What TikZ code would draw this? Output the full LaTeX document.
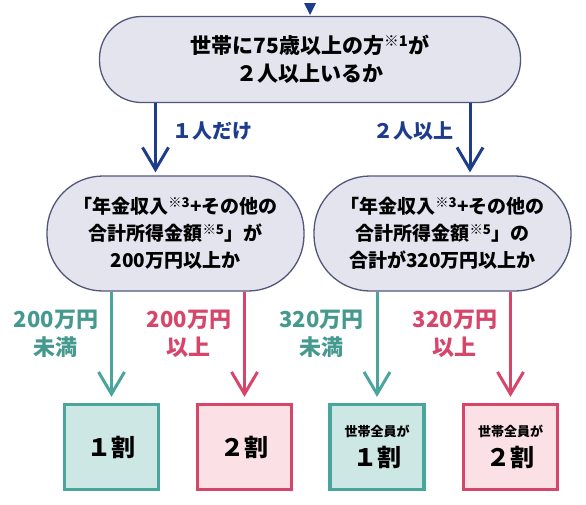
\documentclass[tikz,border=0pt]{standalone}
\usepackage{fontspec}
\setmainfont{Noto Sans CJK JP}
\usetikzlibrary{arrows.meta, positioning}

\definecolor{navy}{HTML}{1E3C8C}
\definecolor{qline}{HTML}{52577A}
\definecolor{qfill}{HTML}{E4E4EF}
\definecolor{tealline}{HTML}{4AA59C}
\definecolor{tealfill}{HTML}{CCE7E4}
\definecolor{tealtext}{HTML}{45998F}
\definecolor{roseline}{HTML}{D6466A}
\definecolor{rosefill}{HTML}{FBE0E5}

\newcommand{\kome}[1]{\textsuperscript{※#1}}

\begin{document}
\begin{tikzpicture}[
    x=1pt, y=-1pt,
    question/.style={draw=qline, fill=qfill, line width=1.3pt, align=center, font=\fontsize{21}{28}\selectfont\bfseries},
    result/.style={line width=3.2pt, minimum width=94pt, minimum height=85pt, align=center, font=\fontsize{24}{30}\selectfont\bfseries},
    lowbox/.style={result, draw=tealline, fill=tealfill},
    highbox/.style={result, draw=roseline, fill=rosefill},
    flow/.style={line width=3pt, -{Straight Barb[length=22pt, width=26pt]}},
    lab/.style={inner sep=0pt, align=center, font=\fontsize{22}{28}\selectfont\bfseries}
]
    \useasboundingbox (0,0) rectangle (586,504);

    % Nodes
    \node[question, rounded corners=42pt, minimum width=421pt, minimum height=86pt] (top) at (310,59.5) {世帯に75歳以上の方\kome{1}が\\２人以上いるか};
    \node[question, rounded corners=56pt, minimum width=257pt, minimum height=115pt, font=\fontsize{19}{27}\selectfont\bfseries] (oval1) at (175.5,233.5) {「年金収入\kome{3}+その他の\\合計所得金額\kome{5}」が\\200万円以上か};
    \node[question, rounded corners=56pt, minimum width=257pt, minimum height=115pt, font=\fontsize{19}{27}\selectfont\bfseries] (oval2) at (442.5,233.5) {「年金収入\kome{3}+その他の\\合計所得金額\kome{5}」の\\合計が320万円以上か};

    \node[lowbox] (box1) at (111.5,447) {１割};
    \node[highbox] (box2) at (244.5,447) {２割};
    \node[lowbox] (box3) at (377,447) {{\fontsize{13}{16}\selectfont 世帯全員が}\\１割};
    \node[highbox] (box4) at (510.5,447) {{\fontsize{13}{16}\selectfont 世帯全員が}\\２割};

    % Entry mark
    \fill[navy] (304,3) -- (316,3) -- (310,15) -- cycle;

    % Connections
    \draw[flow, navy, shorten >=3pt] ([xshift=-20pt]oval1.north |- top.south) -- ([xshift=-20pt]oval1.north)
        node[pos=0.38, right=15pt, lab, font=\fontsize{20}{26}\selectfont\bfseries] {１人だけ};
    \draw[flow, navy, shorten >=3pt] ([xshift=27.5pt]oval2.north |- top.south) -- ([xshift=27.5pt]oval2.north)
        node[pos=0.38, left=15pt, lab, font=\fontsize{20}{26}\selectfont\bfseries] {２人以上};

    \draw[flow, tealline, shorten >=6pt] (box1.north |- oval1.south) -- (box1.north)
        node[pos=0.375, left=12pt, lab, text=tealtext] {200万円\\未満};
    \draw[flow, roseline, shorten >=6pt] (box2.north |- oval1.south) -- (box2.north)
        node[pos=0.375, left=12pt, lab] {200万円\\以上};
    \draw[flow, tealline, shorten >=6pt] (box3.north |- oval2.south) -- (box3.north)
        node[pos=0.375, left=12pt, lab, text=tealtext] {320万円\\未満};
    \draw[flow, roseline, shorten >=6pt] (box4.north |- oval2.south) -- (box4.north)
        node[pos=0.375, left=12pt, lab] {320万円\\以上};
\end{tikzpicture}
\end{document}
